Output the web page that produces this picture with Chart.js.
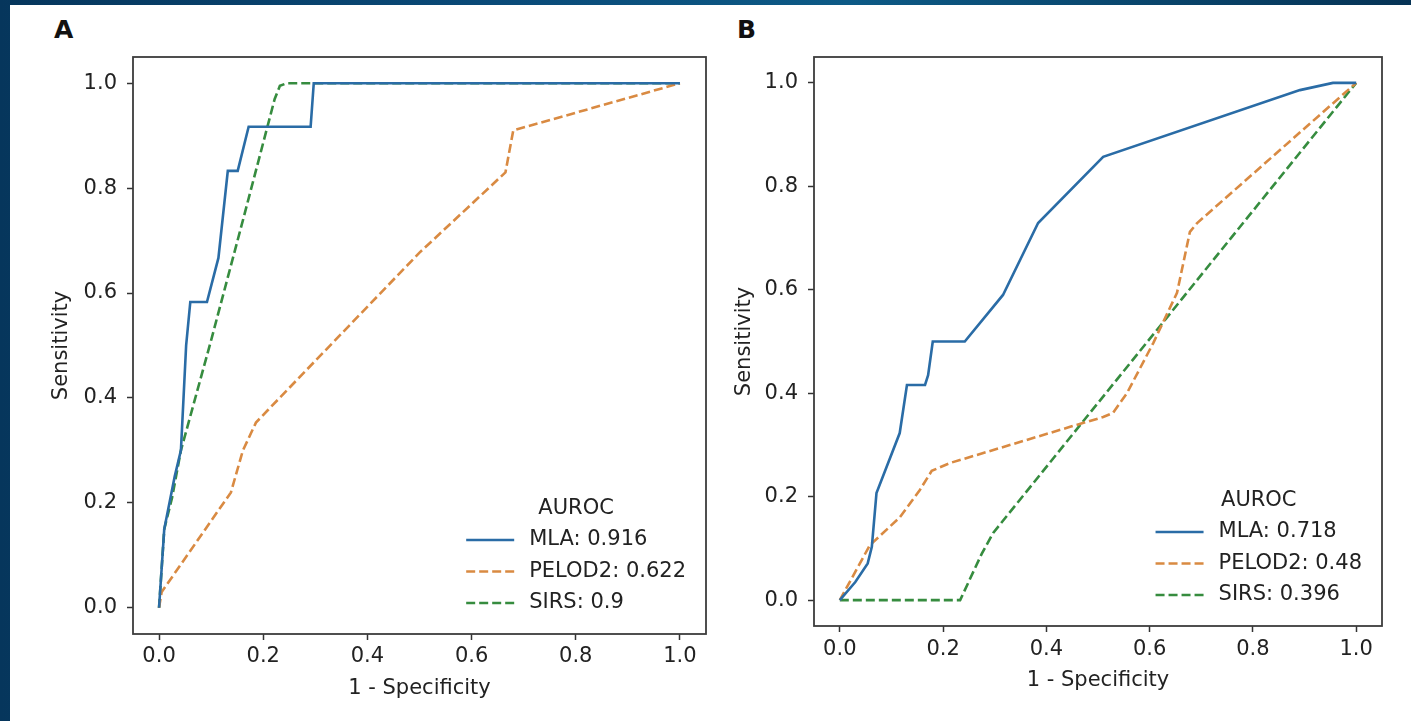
<!DOCTYPE html>
<html>
<head>
<meta charset="utf-8">
<script src="https://cdn.jsdelivr.net/npm/chart.js@4.4.0/dist/chart.umd.min.js"></script>
<style>
    body {
        margin: 0;
        width: 1411px;
        height: 721px;
        overflow: hidden;
        position: relative;
        background: linear-gradient(90deg, #06365c 0%, #0a4a78 35%, #0d5a86 60%, #063355 100%);
        font-family: "DejaVu Sans", sans-serif;
    }
    .page { position: absolute; left: 10px; top: 5px; right: 0; bottom: 0; background: #fff; }
    .lettre { position: absolute; top: 15px; font-size: 25px; font-weight: bold; color: #111; }
    canvas { position: absolute; top: 0; }
</style>
</head>
<body>
<div class="page"></div>
<div class="lettre" style="left:54px">A</div>
<div class="lettre" style="left:737px">B</div>
<canvas id="rocA" width="700" height="721" style="left:20px"></canvas>
<canvas id="rocB" width="691" height="721" style="left:720px"></canvas>

<script>
// ticks des deux axes
var ticksX = [0, 0.2, 0.4, 0.6, 0.8, 1.0];
var ticksY = [0, 0.2, 0.4, 0.6, 0.8, 1.0];

// Panneau A
var labelsA = ["MLA: 0.916", "PELOD2: 0.622", "SIRS: 0.9"];
var mlaA_x   = [0, 0.01, 0.03, 0.042, 0.052, 0.06, 0.092, 0.114, 0.132, 0.151, 0.172, 0.291, 0.297, 1.0];
var mlaA_y   = [0, 0.15, 0.25, 0.30, 0.50, 0.583, 0.583, 0.667, 0.833, 0.833, 0.917, 0.917, 1.0, 1.0];
var pelodA_x = [0, 0.005, 0.138, 0.161, 0.186, 0.21, 0.5, 0.665, 0.68, 1.0];
var pelodA_y = [0, 0.03, 0.22, 0.30, 0.353, 0.378, 0.677, 0.83, 0.91, 1.0];
var sirsA_x  = [0, 0.01, 0.025, 0.042, 0.1, 0.16, 0.222, 0.232, 0.245, 1.0];
var sirsA_y  = [0, 0.15, 0.21, 0.30, 0.51, 0.735, 0.97, 0.995, 1.0, 1.0];

// Panneau B
var labelsB = ["MLA: 0.718", "PELOD2: 0.48", "SIRS: 0.396"];
var mlaB_x   = [0, 0.03, 0.054, 0.062, 0.071, 0.116, 0.13, 0.165, 0.171, 0.18, 0.242, 0.316, 0.384, 0.51, 0.891, 0.955, 1.0];
var mlaB_y   = [0, 0.035, 0.071, 0.103, 0.207, 0.323, 0.416, 0.416, 0.435, 0.5, 0.5, 0.59, 0.729, 0.857, 0.986, 1.0, 1.0];
var pelodB_x = [0, 0.058, 0.116, 0.155, 0.178, 0.213, 0.446, 0.51, 0.529, 0.556, 0.607, 0.653, 0.678, 0.692, 1.0];
var pelodB_y = [0, 0.106, 0.16, 0.213, 0.25, 0.265, 0.335, 0.354, 0.362, 0.40, 0.497, 0.594, 0.712, 0.729, 1.0];
var sirsB_x  = [0, 0.233, 0.275, 0.297, 1.0];
var sirsB_y  = [0, 0, 0.09, 0.13, 1.0];

var bleu = "#2a6ca6";
var orange = "#d98a42";
var vert = "#368c3f";
var police = { family: "'DejaVu Sans', sans-serif", size: 21 };
var texte = "#222";

function points(xs, ys) {
    return xs.map((x, i) => ({ x: x, y: ys[i] }));
}

// cadre complet + legende en bas a droite (facon matplotlib)
var cadreLegende = {
    id: "cadreLegende",
    afterDatasetsDraw(chart, args, opts) {
        var ctx = chart.ctx, a = chart.chartArea;
        ctx.save();
        ctx.strokeStyle = "#3c3c3c";
        ctx.lineWidth = 1.8;
        ctx.strokeRect(a.left, a.top, a.right - a.left, a.bottom - a.top);

        ctx.font = "21px 'DejaVu Sans'";
        ctx.fillStyle = texte;
        ctx.textBaseline = "middle";
        var ds = chart.data.datasets;
        var largeur = Math.max(...ds.map(d => ctx.measureText(d.label).width));
        var finTexte = a.right - opts.marge;
        var debutTexte = finTexte - largeur;
        ds.forEach((d, i) => {
            var y = a.bottom - opts.bas - (ds.length - 1 - i) * opts.pas;
            ctx.textAlign = "left";
            ctx.fillText(d.label, debutTexte, y);
            ctx.beginPath();
            ctx.setLineDash(d.borderDash || []);
            ctx.strokeStyle = d.borderColor;
            ctx.lineWidth = d.borderWidth;
            ctx.moveTo(debutTexte - 63, y);
            ctx.lineTo(debutTexte - 15, y);
            ctx.stroke();
        });
        ctx.setLineDash([]);
        ctx.textAlign = "center";
        var yTitre = a.bottom - opts.bas - ds.length * opts.pas;
        ctx.fillText("AUROC", (debutTexte - 63 + finTexte) / 2, yTitre);
        ctx.restore();
    }
};

function creerROC(id, labels, series, cfg) {
    var ctx = document.getElementById(id).getContext("2d");
    return new Chart(ctx, {
        type: "line",
        data: {
            datasets: [
                { label: labels[0], data: points(series[0][0], series[0][1]), borderColor: bleu, borderWidth: 2.6 },
                { label: labels[1], data: points(series[1][0], series[1][1]), borderColor: orange, borderWidth: 2.6, borderDash: [9, 4] },
                { label: labels[2], data: points(series[2][0], series[2][1]), borderColor: vert, borderWidth: 2.6, borderDash: [9, 4] }
            ]
        },
        options: {
            responsive: false,
            animation: false,
            devicePixelRatio: 1,
            layout: { padding: cfg.padding },
            elements: { point: { radius: 0 }, line: { tension: 0, fill: false } },
            plugins: {
                legend: { display: false },
                tooltip: { enabled: false },
                cadreLegende: { marge: 20, bas: 31, pas: 31.5 }
            },
            scales: {
                x: {
                    type: "linear",
                    min: -0.05,
                    max: 1.05,
                    afterBuildTicks: s => { s.ticks = ticksX.map(v => ({ value: v })); },
                    afterFit: s => { s.height = 70; },
                    ticks: { callback: v => v.toFixed(1), font: police, color: texte, padding: cfg.padX, maxRotation: 0, autoSkip: false },
                    grid: { drawOnChartArea: false, drawTicks: true, tickLength: 6, tickColor: "#333", tickWidth: 1.5 },
                    border: { display: false },
                    title: { display: true, text: "1 - Specificity", font: police, color: texte, padding: { top: 0, bottom: 3 } }
                },
                y: {
                    type: "linear",
                    min: -0.05,
                    max: 1.05,
                    afterBuildTicks: s => { s.ticks = ticksY.map(v => ({ value: v })); },
                    afterFit: s => { s.width = cfg.largeurY; },
                    ticks: { callback: v => v.toFixed(1), font: police, color: texte, padding: 10, autoSkip: false },
                    grid: { drawOnChartArea: false, drawTicks: true, tickLength: 6, tickColor: "#333", tickWidth: 1.5 },
                    border: { display: false },
                    title: { display: true, text: "Sensitivity", font: police, color: texte, padding: { top: cfg.padTitreY, bottom: 0 } }
                }
            }
        },
        plugins: [cadreLegende]
    });
}

document.addEventListener("DOMContentLoaded", function() {
    creerROC("rocA", labelsA,
        [[mlaA_x, mlaA_y], [pelodA_x, pelodA_y], [sirsA_x, sirsA_y]],
        { padding: { top: 57, right: 14, bottom: 17, left: 0 }, largeurY: 113, padTitreY: 29, padX: 4 });

    creerROC("rocB", labelsB,
        [[mlaB_x, mlaB_y], [pelodB_x, pelodB_y], [sirsB_x, sirsB_y]],
        { padding: { top: 57, right: 29, bottom: 25, left: 0 }, largeurY: 94, padTitreY: 12, padX: 5 });
});
</script>
</body>
</html>
